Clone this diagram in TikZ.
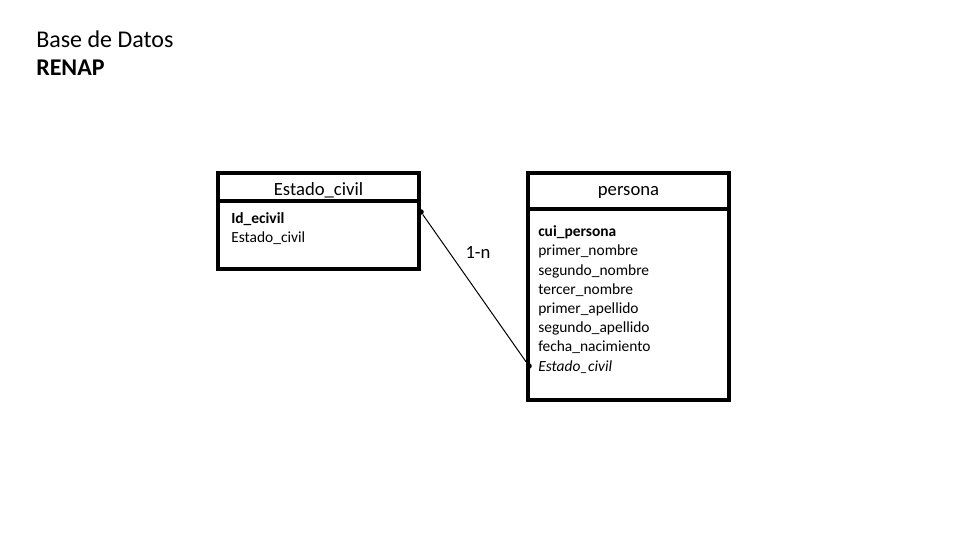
\documentclass[tikz,border=0pt]{standalone}
\usepackage{fontspec}
\setmainfont{Carlito}
\begin{document}
\begin{tikzpicture}[x=0.75pt,y=-0.75pt]
\tikzstyle{every node}+=[inner sep=0pt]
\tikzstyle{tabla}=[draw=black, line width=2.4pt]
\tikzstyle{campo}=[anchor=mid west, font=\fontsize{11.6}{14}\selectfont]
\tikzstyle{titulo}=[anchor=mid, font=\fontsize{14}{16.8}\selectfont]
\tikzstyle{punto}=[circle, fill=black, minimum size=4.2pt]
\useasboundingbox (0,0) rectangle (960,540);
% encabezado
\node[anchor=base west, font=\fontsize{18}{21.6}\selectfont] (bd) at (36,47) {Base de Datos};
\node[anchor=base west, font=\fontsize{18}{21.6}\selectfont] (renap) at (36,75) {\textbf{RENAP}};
% tabla Estado_civil
\draw [tabla] (218,173) rectangle (419,269);
\draw [tabla] (218,201) -- (419,201);
\node[titulo] (ecivil) at (318.5,192) {Estado\_civil};
\node[campo] (idecivil) at (231,220) {\textbf{Id\_ecivil}};
\node[campo] (ecivilnombre) at (231,239.3) {Estado\_civil};
% tabla persona
\draw [tabla] (528,173) rectangle (729,400);
\draw [tabla] (528,209) -- (729,209);
\node[titulo] (persona) at (628.5,192) {persona};
\node[campo] (p0) at (538,233.5) {\textbf{cui\_persona}};
\foreach \n [count=\i] in {primer\_nombre, segundo\_nombre, tercer\_nombre, primer\_apellido, segundo\_apellido, fecha\_nacimiento}
  \node[campo] (p\i) at (538,233.5+19.2*\i) {\n};
\node[campo] (p7) at (538,367.9) {\textit{Estado\_civil}};
% relacion
\node[punto] (pa) at (421,212) {};
\node[punto] (pb) at (529,366) {};
\draw [black, line width=0.75pt] (pa) -- (pb);
\node[titulo] (rel) at (478,255.5) {1-n};
\end{tikzpicture}
\end{document}
